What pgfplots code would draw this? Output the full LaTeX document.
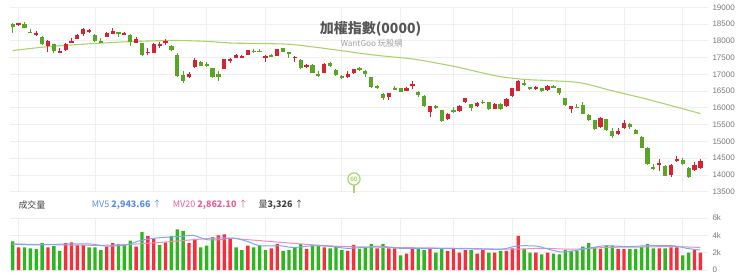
\documentclass[border=0pt]{standalone}
\usepackage{fontspec}
\setmainfont{Noto Sans CJK TC}
\newfontfamily\lib{Liberation Sans}
\usepackage{pgfplots}
\usepackage{pgfplotstable}
\pgfplotsset{compat=1.18}
\definecolor{candR}{HTML}{D42333}
\definecolor{candG}{HTML}{5BA526}
\definecolor{volR}{HTML}{F2313D}
\definecolor{volG}{HTML}{2FB51F}
\definecolor{maG}{HTML}{A8D46F}
\definecolor{mvfive}{HTML}{78A9F5}
\definecolor{mvtwenty}{HTML}{EE8DBE}
\definecolor{gridc}{HTML}{EFEFEF}
\definecolor{tickc}{HTML}{7A7A7A}
\definecolor{titlec}{HTML}{555555}
\definecolor{subc}{HTML}{A0A0A0}
\definecolor{hdrblue}{HTML}{5B8DEF}
\definecolor{hdrpink}{HTML}{E5609A}
\definecolor{hdrgray}{HTML}{444444}

\pgfplotstableread{
k o h l c v r
1 18510 18530 18230 18410 3.3 0
2 18500 18540 18450 18530 2.6 1
3 18500 18570 18370 18370 2.6 0
4 18270 18350 18220 18230 2.5 0
5 18200 18290 18150 18230 2.4 0
6 18110 18130 17880 17900 3.1 0
7 17850 18010 17680 17990 2.6 1
8 17900 17920 17650 17710 2.75 0
9 17650 17780 17630 17710 2.2 0
10 17730 17950 17710 17900 3.1 1
11 17950 18070 17940 17980 3.2 1
12 18060 18190 18050 18170 2.9 1
13 18210 18370 18150 18340 2.9 1
14 18250 18340 18230 18320 2.6 0
15 18180 18200 17970 18000 2.6 0
16 17990 18070 17950 17950 2.3 0
17 18120 18260 18110 18240 2.7 1
18 18210 18370 18190 18280 3.1 1
19 18260 18270 18120 18230 3.0 0
20 18190 18270 18160 18230 2.9 0
21 18160 18190 17850 17980 3.4 0
22 17950 18110 17940 18040 2.7 1
23 17930 17950 17560 17580 4.4 0
24 17650 17780 17580 17680 3.9 1
25 17650 17930 17640 17910 3.6 1
26 17860 17970 17800 17910 2.9 0
27 17940 18040 17890 17990 3.2 1
28 17850 17870 17700 17730 3.9 0
29 17580 17630 16930 16960 4.7 0
30 16990 17110 16750 16810 4.5 0
31 16930 17070 16900 17010 3.1 1
32 17210 17480 17180 17430 3.6 1
33 17370 17390 17250 17260 2.6 0
34 17300 17370 17230 17250 2.8 0
35 17180 17200 16900 16910 3.8 0
36 17010 17100 16800 16910 4.0 1
37 17170 17470 17150 17450 4.1 1
38 17420 17480 17350 17460 3.6 1
39 17500 17610 17490 17570 2.6 0
40 17500 17580 17480 17560 2.3 0
41 17580 17740 17570 17730 2.8 1
42 17710 17760 17640 17680 2.6 0
43 17710 17750 17660 17680 2.8 0
44 17510 17570 17380 17530 2.3 0
45 17580 17600 17510 17530 2.5 1
46 17550 17770 17540 17750 3.0 1
47 17780 17800 17660 17680 2.2 0
48 17660 17680 17480 17630 2.3 0
49 17480 17560 17380 17530 2.6 0
50 17430 17450 17160 17180 3.0 0
51 17210 17300 17190 17280 2.45 1
52 17280 17300 17030 17050 2.9 0
53 17000 17100 16930 16960 2.8 0
54 17050 17340 17030 17310 2.6 1
55 17350 17370 17230 17250 2.5 0
56 17130 17150 16960 16980 2.7 0
57 16950 16970 16860 16880 2.3 0
58 16910 17110 16900 17010 2.2 1
59 17030 17170 17010 17160 2.9 1
60 17180 17210 17110 17140 2.45 0
61 17100 17120 16930 17010 2.6 0
62 16910 16930 16590 16610 3.0 0
63 16640 16680 16560 16600 2.5 1
64 16410 16430 16230 16300 3.0 0
65 16330 16450 16250 16430 2.5 1
66 16590 16660 16530 16560 2.5 1
67 16580 16600 16460 16480 1.7 0
68 16510 16610 16490 16600 1.9 1
69 16670 16800 16560 16700 2.5 1
70 16480 16500 16310 16380 2.45 0
71 16350 16370 16030 16050 2.3 0
72 15880 16060 15730 16050 2.5 1
73 16050 16090 15960 16010 2.0 0
74 15930 15950 15590 15610 2.45 0
75 15670 15840 15650 15830 2.2 1
76 15930 16020 15860 15880 2.45 1
77 15910 16090 15890 16060 2.0 1
78 16170 16300 16150 16290 2.3 1
79 16110 16130 15910 16010 2.3 0
80 16050 16170 16030 16150 1.9 1
81 16180 16230 16130 16150 2.3 1
82 16170 16190 15940 15960 2.0 0
83 15980 16140 15960 16110 2.0 1
84 16130 16150 15940 15960 2.2 0
85 16060 16280 16040 16260 2.2 1
86 16350 16590 16330 16580 2.5 1
87 16510 16830 16490 16810 3.95 1
88 16730 16830 16650 16670 2.45 0
89 16610 16630 16530 16550 2.0 0
90 16570 16650 16520 16610 2.0 1
91 16580 16600 16480 16500 1.8 0
92 16530 16670 16510 16650 2.0 1
93 16650 16690 16600 16620 1.9 0
94 16580 16600 16380 16430 1.8 0
95 16280 16300 16060 16080 2.3 0
96 15980 16070 15860 16050 2.2 0
97 16030 16110 15990 16000 2.2 0
98 16080 16180 15810 15830 2.7 0
99 15800 15820 15610 15630 3.1 0
100 15630 15650 15340 15360 2.6 0
101 15430 15730 15410 15710 2.45 1
102 15660 15680 15310 15330 2.8 0
103 15310 15410 15110 15160 2.8 0
104 15210 15410 15190 15310 2.4 1
105 15400 15650 15380 15550 2.4 1
106 15530 15550 15380 15430 2.4 0
107 15350 15370 15210 15230 2.45 0
108 15130 15150 14790 14810 2.7 0
109 14810 14830 14310 14330 3.0 0
110 14240 14330 14140 14200 2.5 0
111 14310 14480 14110 14350 2.5 1
112 14270 14290 13960 13980 2.5 0
113 14010 14330 13950 14310 2.6 1
114 14430 14550 14380 14480 2.6 1
115 14450 14500 14310 14330 1.7 0
116 14210 14230 13910 13930 2.0 0
117 14160 14390 14130 14310 2.3 1
118 14210 14480 14190 14430 2.0 1
}\data

\pgfplotstableread{
k ma
1 17710
7.3 17830
15.9 17930
21.5 17980
28.3 18010
34 17985
38 17935
43 17920
48.2 17895
53.8 17780
62.3 17580
68 17480
70.8 17410
76.6 17220
80.5 17060
84 16930
88 16850
92 16815
97.5 16750
103 16510
108.9 16260
118 15830
}\matable

\pgfplotstableread{
k v
1 3.0
4.5 2.9
10.3 3.0
14.2 3.0
17 2.75
20.4 2.9
22.7 3.4
25.6 3.7
30 3.9
31.7 4.0
34 3.5
36.3 3.5
38.5 3.7
40.9 3.3
43.1 2.8
46.5 2.8
48.7 2.6
52.1 2.8
55.5 2.7
57.9 2.5
60.6 2.6
63.5 2.75
66.9 2.5
71.5 2.5
77.1 2.45
83.9 2.4
86.2 2.7
87.8 2.8
90.2 2.75
91.6 2.5
94.1 2.1
96.3 2.2
99.7 2.6
102 2.8
105.5 2.7
108.9 2.8
113.3 2.8
115.7 2.5
118 2.3
}\mvfivetable

\pgfplotstableread{
k v
1 3.0
15.9 2.85
24.4 3.1
30 3.4
36.3 3.7
40.9 3.5
46.5 3.2
52.1 2.9
57.9 2.7
65.7 2.6
77.1 2.5
85.6 2.4
91.2 2.5
96.3 2.4
102 2.6
107.7 2.65
113.3 2.7
118 2.6
}\mvtwentytable

\pgfplotsset{
  common/.style={
    scale only axis, anchor=south west, width=698pt,
    xmin=0.541, xmax=119.29,
    axis line style={draw=none}, major tick length=0pt,
    xtick={2,15,25,34,44,57,67,76,86,95,105,115}, xticklabels={},
    xmajorgrids, ymajorgrids,
    major grid style={color=gridc, line width=0.8pt},
    yticklabel pos=right,
    yticklabel style={font=\lib\fontsize{8}{9}\selectfont, text=tickc, anchor=west, xshift=1pt},
    /pgf/number format/assume math mode=true,
    /pgf/number format/1000 sep={},
    scaled y ticks=false,
  },
  candle/.style 2 args={draw=none, mark=none, forget plot,
    error bars/.cd, y dir=both, y explicit, error mark=none,
    error bar style={draw=#1, line width=#2, solid}},
}

\begin{document}
\begin{tikzpicture}[x=1pt,y=1pt]
\useasboundingbox (0,0) rectangle (740,276);
% price panel
\begin{axis}[common, at={(10pt,84.3pt)}, height=184.4pt,
  ymin=13500, ymax=19000, ytick={13500,14000,...,19000}, clip=false]
\addplot[maG, line width=1.1pt, smooth, mark=none] table[x=k,y=ma]{\matable};
% wicks
\addplot[restrict expr to domain={\thisrow{c}-\thisrow{o}}{0:100000}, candle={candR}{1pt}]
  table[x=k, y expr={(\thisrow{h}+\thisrow{l})/2}, y error expr={(\thisrow{h}-\thisrow{l})/2}]{\data};
\addplot[restrict expr to domain={\thisrow{c}-\thisrow{o}}{-100000:-0.5}, candle={candG}{1pt}]
  table[x=k, y expr={(\thisrow{h}+\thisrow{l})/2}, y error expr={(\thisrow{h}-\thisrow{l})/2}]{\data};
% bodies
\addplot[restrict expr to domain={\thisrow{c}-\thisrow{o}}{0:100000}, candle={candR}{4.2pt}]
  table[x=k, y expr={(\thisrow{o}+\thisrow{c})/2}, y error expr={max(abs(\thisrow{o}-\thisrow{c})/2,16)}]{\data};
\addplot[restrict expr to domain={\thisrow{c}-\thisrow{o}}{-100000:-0.5}, candle={candG}{4.2pt}]
  table[x=k, y expr={(\thisrow{o}+\thisrow{c})/2}, y error expr={max(abs(\thisrow{o}-\thisrow{c})/2,16)}]{\data};
% 60 marker
\addplot[maG, line width=1.2pt, mark=none] coordinates {(59.06,13690) (59.06,13470)};
\addplot[only marks, mark=*, mark size=6.1pt, mark options={fill=white, draw=maG, line width=1.2pt},
  nodes near coords={60}, nodes near coords align={center},
  every node near coord/.append style={anchor=center, text=maG, font=\lib\bfseries\fontsize{6.5}{7}\selectfont, inner sep=0pt}]
  coordinates {(59.06,13880)};
\end{axis}
% volume panel
\begin{axis}[common, at={(10pt,6pt)}, height=52pt,
  ymin=0, ymax=6, ytick={0,2,4,6}, yticklabels={0,2k,4k,6k}]
\addplot[ybar, bar width=3.4pt, bar shift=0pt, fill=volR, draw=none,
  restrict expr to domain={\thisrow{r}}{0.5:1.5}] table[x=k,y=v]{\data};
\addplot[ybar, bar width=3.4pt, bar shift=0pt, fill=volG, draw=none,
  restrict expr to domain={\thisrow{r}}{-0.5:0.5}] table[x=k,y=v]{\data};
\addplot[mvtwenty, line width=1pt, smooth, mark=none] table[x=k,y=v]{\mvtwentytable};
\addplot[mvfive, line width=1pt, smooth, mark=none] table[x=k,y=v]{\mvfivetable};
\end{axis}
% texts
\node[font=\bfseries\fontsize{14}{16}\selectfont, text=titlec, inner sep=0pt] at (370.5,246.7) {加權指數(0000)};
\node[font=\fontsize{8.2}{9}\selectfont, text=subc, inner sep=0pt] at (371.7,232.7) {WantGoo 玩股網};
\node[font=\fontsize{9}{10}\selectfont, text=hdrgray, inner sep=0pt, anchor=west] at (18.3,71) {成交量};
\node[font=\fontsize{9}{10}\selectfont, text=hdrblue, inner sep=0pt, anchor=west] at (91.7,71) {MV5 \textbf{2,943.66} ↑};
\node[font=\fontsize{9}{10}\selectfont, text=hdrpink, inner sep=0pt, anchor=west] at (172.7,71) {MV20 \textbf{2,862.10} ↑};
\node[font=\fontsize{9}{10}\selectfont, text=hdrgray, inner sep=0pt, anchor=west] at (258.3,71) {量\textbf{3,326} ↑};
\end{tikzpicture}
\end{document}
